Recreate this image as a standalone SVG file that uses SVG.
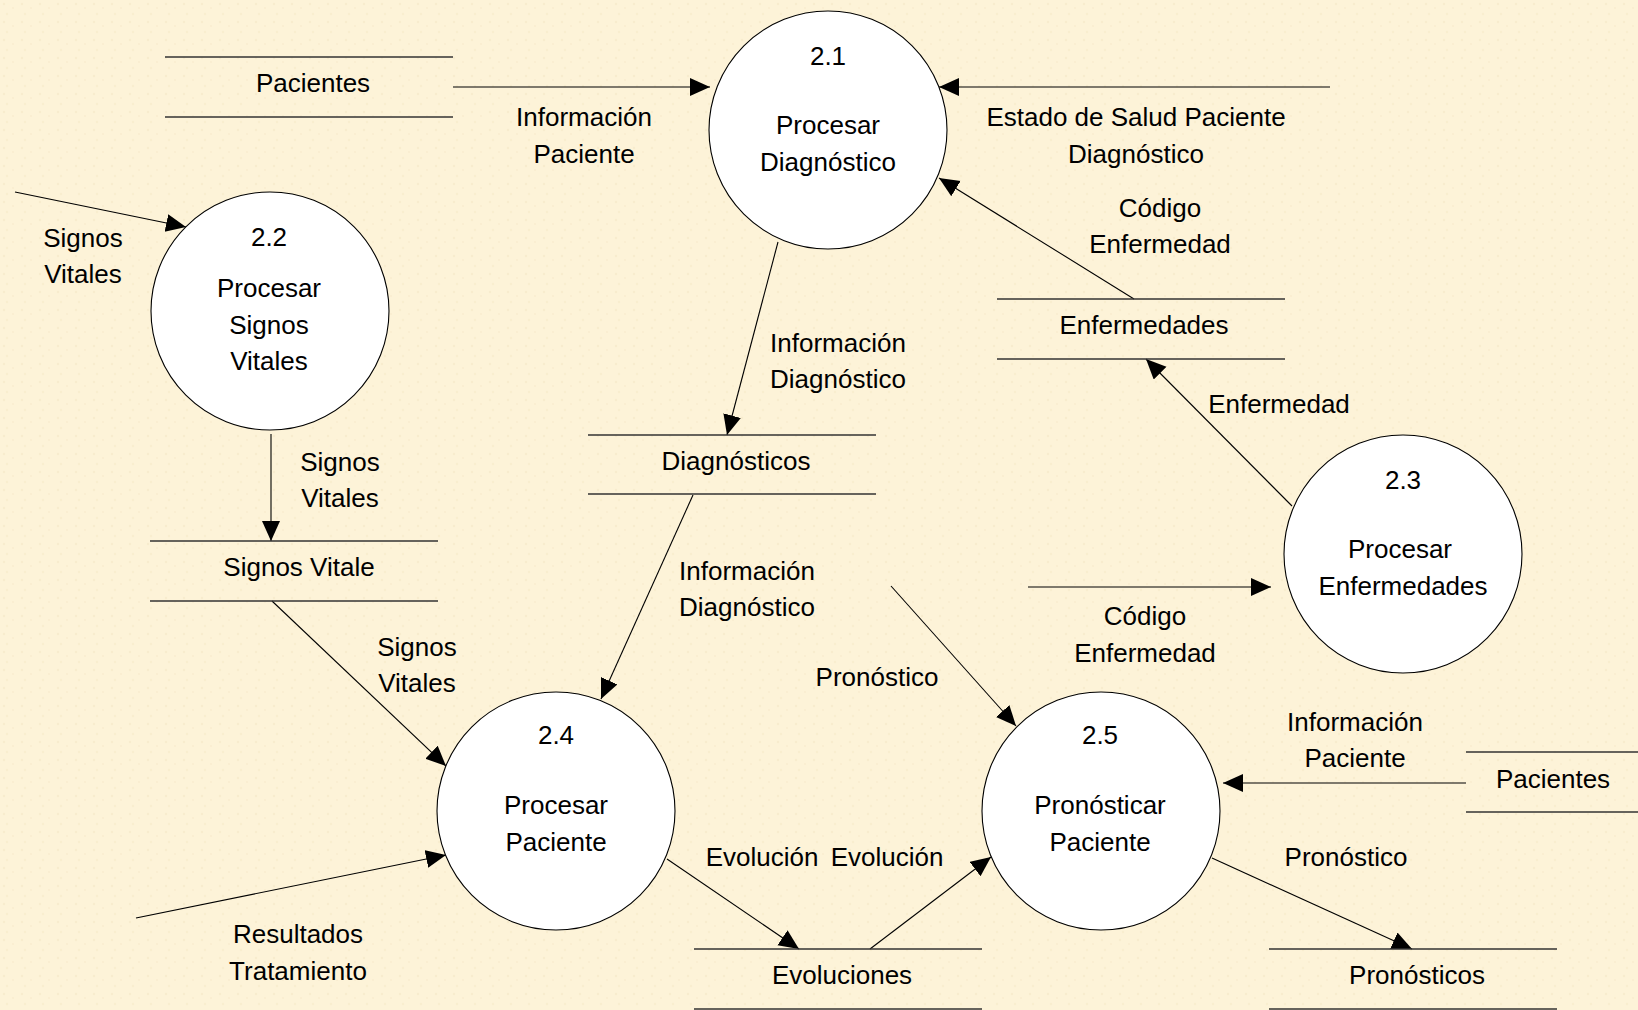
<svg xmlns="http://www.w3.org/2000/svg" width="1638" height="1010" viewBox="0 0 1638 1010">
  <defs>
    <!-- parchment-like speckled paper -->
    <pattern id="paper" width="18" height="18" patternUnits="userSpaceOnUse">
      <rect width="18" height="18" fill="#FDF3D8"/>
      <circle cx="4" cy="4" r="1.3" fill="#EEE0BA" opacity="0.35"/>
      <circle cx="13" cy="8" r="1.1" fill="#F0E3C0" opacity="0.35"/>
      <circle cx="7" cy="14" r="1.2" fill="#EEE0BA" opacity="0.3"/>
    </pattern>
    <marker id="arrow" markerUnits="userSpaceOnUse" markerWidth="21" markerHeight="19" refX="20" refY="9" orient="auto">
      <path d="M0,0 L20,9 L0,18 z" fill="#000"/>
    </marker>
    <style>
      text { font-family: "Liberation Sans", Arial, sans-serif; font-size: 26px; fill: #000; text-anchor: middle; }
      .process { fill: #fff; stroke: #000; stroke-width: 1.1; }
      .store line { stroke: #333; stroke-width: 1.6; }
      .flow { stroke: #000; stroke-width: 1.1; fill: none; marker-end: url(#arrow); }
    </style>
  </defs>

  <rect width="1638" height="1010" fill="url(#paper)"/>

  <!-- data flows -->
  <g id="connectors">
    <line class="flow" x1="453" y1="87" x2="710" y2="87"/>
    <line class="flow" x1="1330" y1="87" x2="939" y2="87"/>
    <line class="flow" x1="1134" y1="299" x2="939" y2="178"/>
    <line class="flow" x1="1292" y1="506" x2="1146" y2="359"/>
    <line class="flow" x1="778" y1="242" x2="727" y2="435"/>
    <line class="flow" x1="693" y1="495" x2="601" y2="699"/>
    <line class="flow" x1="891" y1="586" x2="1016" y2="726"/>
    <line class="flow" x1="15" y1="192" x2="186" y2="227"/>
    <line class="flow" x1="271" y1="434" x2="271" y2="541"/>
    <line class="flow" x1="272" y1="601" x2="446" y2="766"/>
    <line class="flow" x1="136" y1="918" x2="446" y2="855"/>
    <line class="flow" x1="667" y1="859" x2="799" y2="949"/>
    <line class="flow" x1="870" y1="949" x2="991" y2="857"/>
    <line class="flow" x1="1028" y1="587" x2="1271" y2="587"/>
    <line class="flow" x1="1466" y1="783" x2="1223" y2="783"/>
    <line class="flow" x1="1212" y1="858" x2="1412" y2="949"/>

    <text x="584" y="126">Información</text>
    <text x="584" y="163">Paciente</text>
    <text x="1136" y="126">Estado de Salud Paciente</text>
    <text x="1136" y="163">Diagnóstico</text>
    <text x="1160" y="217">Código</text>
    <text x="1160" y="253">Enfermedad</text>
    <text x="1279" y="413">Enfermedad</text>
    <text x="838" y="352">Información</text>
    <text x="838" y="388">Diagnóstico</text>
    <text x="747" y="580">Información</text>
    <text x="747" y="616">Diagnóstico</text>
    <text x="877" y="686">Pronóstico</text>
    <text x="83" y="247">Signos</text>
    <text x="83" y="283">Vitales</text>
    <text x="340" y="471">Signos</text>
    <text x="340" y="507">Vitales</text>
    <text x="417" y="656">Signos</text>
    <text x="417" y="692">Vitales</text>
    <text x="298" y="943">Resultados</text>
    <text x="298" y="980">Tratamiento</text>
    <text x="762" y="866">Evolución</text>
    <text x="887" y="866">Evolución</text>
    <text x="1145" y="625">Código</text>
    <text x="1145" y="662">Enfermedad</text>
    <text x="1355" y="731">Información</text>
    <text x="1355" y="767">Paciente</text>
    <text x="1346" y="866">Pronóstico</text>
  </g>

  <!-- processes -->
  <g id="p21">
    <circle class="process" cx="828" cy="130" r="119"/>
    <text x="828" y="65">2.1</text>
    <text x="828" y="134">Procesar</text>
    <text x="828" y="171">Diagnóstico</text>
  </g>
  <g id="p22">
    <circle class="process" cx="270" cy="311" r="119"/>
    <text x="269" y="246">2.2</text>
    <text x="269" y="297">Procesar</text>
    <text x="269" y="334">Signos</text>
    <text x="269" y="370">Vitales</text>
  </g>
  <g id="p23">
    <circle class="process" cx="1403" cy="554" r="119"/>
    <text x="1403" y="489">2.3</text>
    <text x="1400" y="558">Procesar</text>
    <text x="1403" y="595">Enfermedades</text>
  </g>
  <g id="p24">
    <circle class="process" cx="556" cy="811" r="119"/>
    <text x="556" y="744">2.4</text>
    <text x="556" y="814">Procesar</text>
    <text x="556" y="851">Paciente</text>
  </g>
  <g id="p25">
    <circle class="process" cx="1101" cy="811" r="119"/>
    <text x="1100" y="744">2.5</text>
    <text x="1100" y="814">Pronósticar</text>
    <text x="1100" y="851">Paciente</text>
  </g>

  <!-- data stores -->
  <g id="store-pacientes" class="store">
    <line x1="165" y1="57" x2="453" y2="57"/>
    <line x1="165" y1="117" x2="453" y2="117"/>
    <text x="313" y="92">Pacientes</text>
  </g>
  <g id="store-enfermedades" class="store">
    <line x1="997" y1="299" x2="1285" y2="299"/>
    <line x1="997" y1="359" x2="1285" y2="359"/>
    <text x="1144" y="334">Enfermedades</text>
  </g>
  <g id="store-diagnosticos" class="store">
    <line x1="588" y1="435" x2="876" y2="435"/>
    <line x1="588" y1="494" x2="876" y2="494"/>
    <text x="736" y="470">Diagnósticos</text>
  </g>
  <g id="store-signos" class="store">
    <line x1="150" y1="541" x2="438" y2="541"/>
    <line x1="150" y1="601" x2="438" y2="601"/>
    <text x="299" y="576">Signos Vitale</text>
  </g>
  <g id="store-evoluciones" class="store">
    <line x1="694" y1="949" x2="982" y2="949"/>
    <line x1="694" y1="1009" x2="982" y2="1009"/>
    <text x="842" y="984">Evoluciones</text>
  </g>
  <g id="store-pacientes-2" class="store">
    <line x1="1466" y1="752" x2="1638" y2="752"/>
    <line x1="1466" y1="812" x2="1638" y2="812"/>
    <text x="1553" y="788">Pacientes</text>
  </g>
  <g id="store-pronosticos" class="store">
    <line x1="1269" y1="949" x2="1557" y2="949"/>
    <line x1="1269" y1="1009" x2="1557" y2="1009"/>
    <text x="1417" y="984">Pronósticos</text>
  </g>
</svg>
